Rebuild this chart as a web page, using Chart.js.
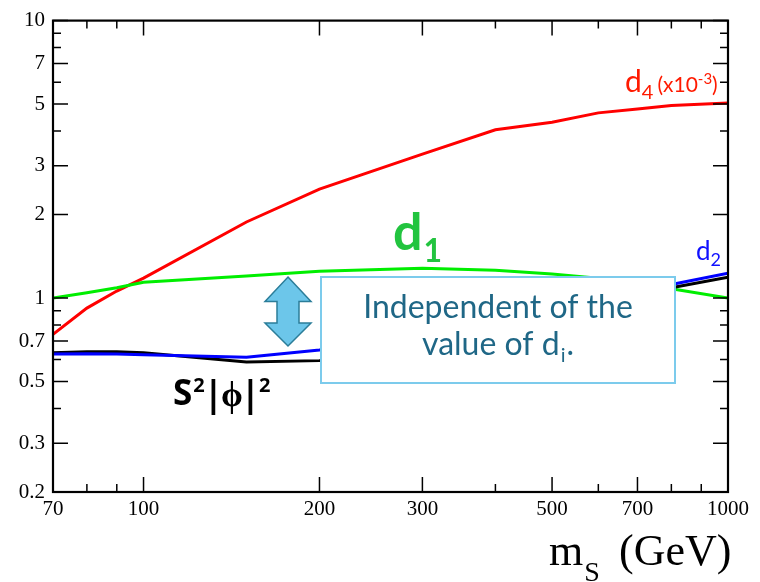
<!DOCTYPE html>
<html>
<head>
<meta charset="utf-8">
<script src="https://cdn.jsdelivr.net/npm/chart.js@4.4.0/dist/chart.umd.min.js"></script>
<style>
  body { margin: 0; background: #fff; }
  #wrap { width: 760px; height: 582px; }
</style>
</head>
<body>
<div id="wrap"><canvas id="chart" width="760" height="582"></canvas></div>
<script>
// values (log-log)
const massS = [70, 80, 90, 100, 150, 200, 300, 400, 500, 600, 700, 800, 1000];
const d4Values = [0.74, 0.92, 1.06, 1.18, 1.88, 2.47, 3.3, 4.04, 4.3, 4.65, 4.8, 4.94, 5.05];
const d1Values = [1.0, 1.045, 1.09, 1.14, 1.2, 1.25, 1.28, 1.26, 1.22, 1.18, 1.13, 1.08, 1.0];
// d2 and S^2|phi|^2 are hidden behind the text box between 200 and 800
const lowMass = [70, 80, 90, 100, 150, 200, 800, 1000];
const d2Values = [0.628, 0.63, 0.628, 0.625, 0.612, 0.65, 1.12, 1.23];
const s2phiValues = [0.635, 0.64, 0.64, 0.635, 0.588, 0.595, 1.09, 1.19];

const xMajor = [70, 100, 200, 300, 500, 700, 1000];
const xMinor = [80, 90, 400, 600, 800, 900];
const yMajor = [10, 7, 5, 3, 2, 1, 0.7, 0.5, 0.3, 0.2];
const yMinor = [9, 8, 6, 4, 0.9, 0.8, 0.6, 0.4];

const serif = '"Liberation Serif", "Times New Roman", serif';

function pairs(xs, ys) {
  return xs.map((x, i) => ({ x: x, y: ys[i] }));
}

// draw a run of [text, font, dy, dx] pieces one after another
function drawRun(ctx, parts, x, y) {
  parts.forEach(p => {
    ctx.font = p[1];
    ctx.fillText(p[0], x + (p[3] || 0), y + (p[2] || 0));
    x += ctx.measureText(p[0]).width + (p[3] || 0);
  });
  return x;
}

// frame with inward ticks on all four sides
const frameTicks = {
  id: 'frameTicks',
  afterDraw(chart) {
    const { ctx, chartArea: a, scales } = chart;
    ctx.save();
    ctx.strokeStyle = '#000';
    ctx.lineWidth = 1.5;
    ctx.beginPath();
    xMajor.concat(xMinor).forEach(v => {
      const len = xMajor.includes(v) ? 15 : 8;
      const px = scales.x.getPixelForValue(v);
      ctx.moveTo(px, a.bottom); ctx.lineTo(px, a.bottom - len);
      ctx.moveTo(px, a.top); ctx.lineTo(px, a.top + len);
    });
    yMajor.concat(yMinor).forEach(v => {
      const len = yMajor.includes(v) ? 15 : 8;
      const py = scales.y.getPixelForValue(v);
      ctx.moveTo(a.left, py); ctx.lineTo(a.left + len, py);
      ctx.moveTo(a.right, py); ctx.lineTo(a.right - len, py);
    });
    ctx.stroke();
    ctx.lineWidth = 2.2;
    ctx.strokeRect(a.left, a.top, a.right - a.left, a.bottom - a.top);

    // axis title m_S (GeV)
    ctx.fillStyle = '#000';
    ctx.textBaseline = 'alphabetic';
    ctx.textAlign = 'left';
    ctx.font = '44px ' + serif;
    ctx.fillText('m', 549, 565);
    const mw = ctx.measureText('m').width;
    ctx.fillText('(GeV)', 619, 565);
    ctx.font = '28px ' + serif;
    ctx.fillText('S', 549 + mw + 1, 581);
    ctx.restore();
  }
};

// text box, arrow and curve labels
const annotations = {
  id: 'annotations',
  afterDatasetsDraw(chart) {
    const ctx = chart.ctx;
    ctx.save();
    // box
    ctx.fillStyle = '#fff';
    ctx.fillRect(321, 277, 354, 106);
    ctx.strokeStyle = '#7ccbec';
    ctx.lineWidth = 2;
    ctx.strokeRect(321, 277, 354, 106);
    ctx.fillStyle = '#1f6786';
    ctx.textBaseline = 'alphabetic';
    ctx.textAlign = 'left';
    ctx.font = '32px Lato';
    const line1 = 'Independent of the';
    ctx.fillText(line1, 498 - ctx.measureText(line1).width / 2, 318);
    const a = 'value of d', b = 'i', c = '.';
    const wa = ctx.measureText(a).width, wc = ctx.measureText(c).width;
    ctx.font = '20px Lato';
    const wb = ctx.measureText(b).width;
    drawRun(ctx, [[a, '32px Lato'], [b, '20px Lato', 7, 1], [c, '32px Lato', 0, 1]],
      498 - (wa + wb + wc + 2) / 2, 355);

    // double arrow
    ctx.beginPath();
    ctx.moveTo(288, 277);
    ctx.lineTo(311, 301.5);
    ctx.lineTo(299, 301.5);
    ctx.lineTo(299, 323);
    ctx.lineTo(311, 323);
    ctx.lineTo(288, 346);
    ctx.lineTo(265, 323);
    ctx.lineTo(277, 323);
    ctx.lineTo(277, 301.5);
    ctx.lineTo(265, 301.5);
    ctx.closePath();
    ctx.fillStyle = '#6cc6ea';
    ctx.fill();
    ctx.strokeStyle = '#2b7d99';
    ctx.lineWidth = 1.5;
    ctx.stroke();

    // d1
    ctx.fillStyle = '#22c43f';
    drawRun(ctx, [['d', 'bold 52px Lato'], ['1', 'bold 32px Lato', 12, 1]], 393, 250);

    // d2
    ctx.fillStyle = '#1010ff';
    drawRun(ctx, [['d', '26px Lato'], ['2', '18px Lato', 6, 0]], 696, 260);

    // d4 (x10^-3)
    ctx.fillStyle = '#ff1a00';
    drawRun(ctx, [['d', '30px Lato'], ['4', '20px Lato', 7, 0],
      ['(x10', '21px Lato', 0, 4], ['-3', '15px Lato', -8, 0], [')', '21px Lato', 0, 0]], 625, 92);

    // S^2|phi|^2
    ctx.fillStyle = '#000';
    const ob = 'bold 35px "Open Sans"', os = 'bold 20px "Open Sans"';
    drawRun(ctx, [['S', ob], ['2', os, -13, 1], ['|', ob, 1, -1], ['\u03d5', ob, 1, -2],
      ['|', ob, 1, -2], ['2', os, -13, -1]], 173, 405);
    ctx.restore();
  }
};

new Chart(document.getElementById('chart'), {
  type: 'line',
  data: {
    datasets: [
      { label: 'd2', data: pairs(lowMass, d2Values), borderColor: '#0000ff' },
      { label: 'S2phi2', data: pairs(lowMass, s2phiValues), borderColor: '#000000' },
      { label: 'd1', data: pairs(massS, d1Values), borderColor: '#00ee00' },
      { label: 'd4', data: pairs(massS, d4Values), borderColor: '#ff0000' }
    ]
  },
  options: {
    responsive: false,
    animation: false,
    elements: {
      line: { borderWidth: 3, tension: 0, fill: false },
      point: { radius: 0 }
    },
    layout: { padding: { left: 0, right: 32, top: 16, bottom: 0 } },
    plugins: { legend: { display: false }, tooltip: { enabled: false } },
    scales: {
      x: {
        type: 'logarithmic',
        min: 70,
        max: 1000,
        afterBuildTicks: s => { s.ticks = xMajor.map(v => ({ value: v })); },
        afterFit: s => { s.height = 90; },
        grid: { display: false, drawTicks: false },
        border: { display: false },
        ticks: {
          autoSkip: false,
          maxRotation: 0,
          padding: 5,
          color: '#000',
          font: { family: serif, size: 21 },
          callback: v => String(v)
        }
      },
      y: {
        type: 'logarithmic',
        min: 0.2,
        max: 10,
        afterBuildTicks: s => { s.ticks = yMajor.map(v => ({ value: v })); },
        afterFit: s => { s.width = 53; },
        grid: { display: false, drawTicks: false },
        border: { display: false },
        ticks: {
          autoSkip: false,
          padding: 8,
          color: '#000',
          font: { family: serif, size: 21 },
          callback: v => String(v)
        }
      }
    }
  },
  plugins: [annotations, frameTicks]
});
</script>
</body>
</html>
